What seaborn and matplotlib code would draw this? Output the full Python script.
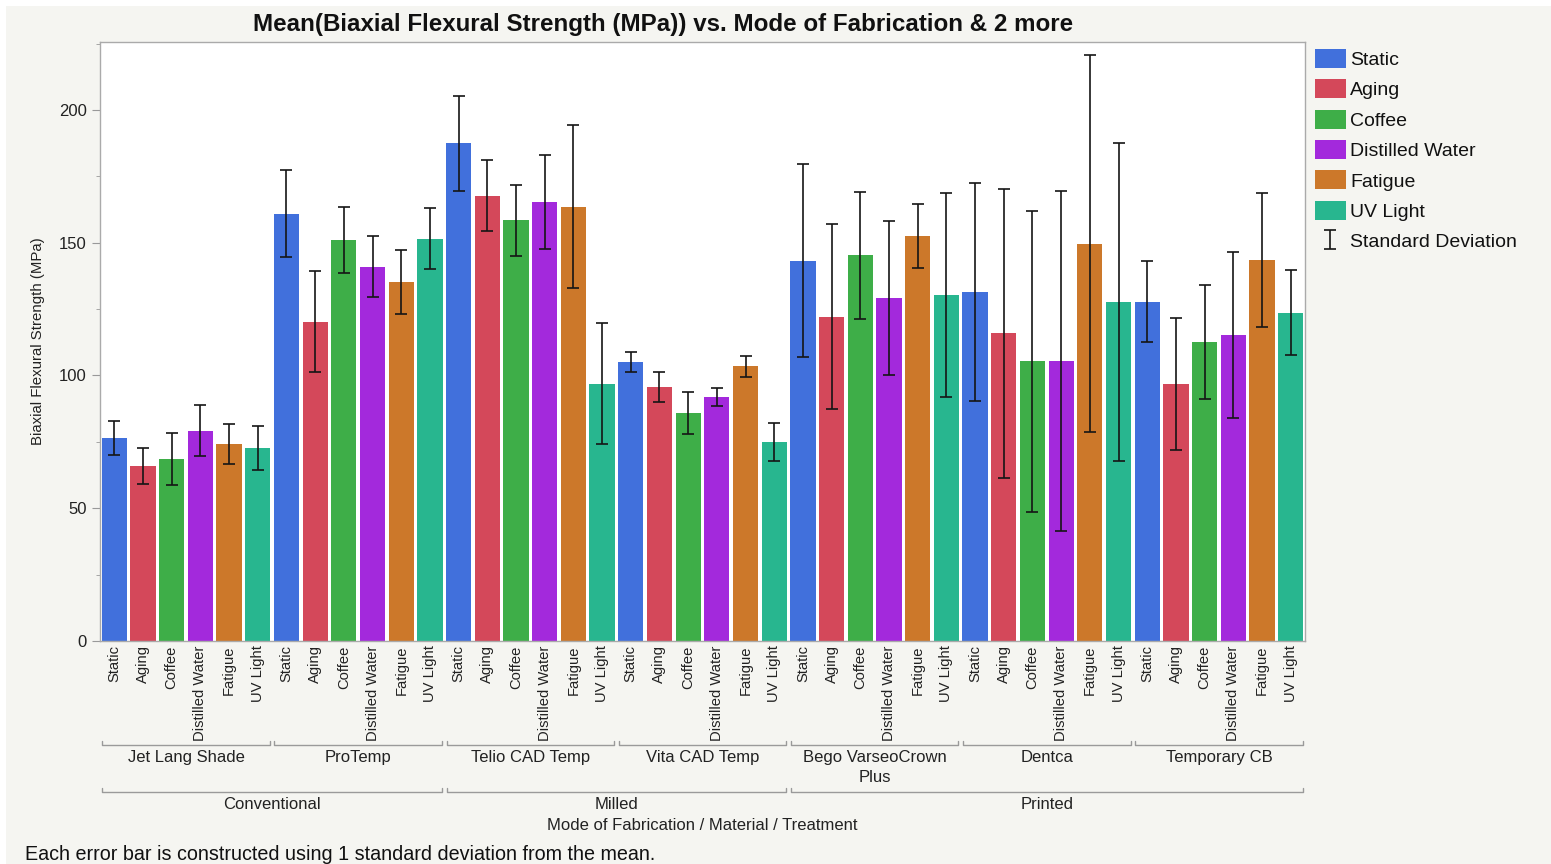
import numpy as np
import pandas as pd
import matplotlib
matplotlib.use("Agg")
import matplotlib.pyplot as plt
import matplotlib.transforms as mtransforms
from matplotlib.patches import Patch, Rectangle
from matplotlib.ticker import MultipleLocator
import seaborn as sns

# chart data
treatments = ["Static", "Aging", "Coffee", "Distilled Water", "Fatigue", "UV Light"]
materials = ["Jet Lang Shade", "ProTemp", "Telio CAD Temp", "Vita CAD Temp",
             "Bego VarseoCrown\nPlus", "Dentca", "Temporary CB"]
material_mode = ["Conventional", "Conventional", "Milled", "Milled",
                 "Printed", "Printed", "Printed"]
modes = ["Conventional", "Milled", "Printed"]

# mean strength per material, in treatment order
means = [
    [76.5, 66.0, 68.4, 79.2, 74.2, 72.7],        # Jet Lang Shade
    [161.0, 120.3, 150.9, 141.0, 135.2, 151.5],  # ProTemp
    [187.4, 167.7, 158.5, 165.5, 163.6, 96.9],   # Telio CAD Temp
    [105.1, 95.6, 85.9, 91.9, 103.4, 74.9],      # Vita CAD Temp
    [143.2, 122.2, 145.3, 129.2, 152.5, 130.4],  # Bego VarseoCrown Plus
    [131.4, 115.9, 105.3, 105.3, 149.7, 127.8],  # Dentca
    [127.8, 96.7, 112.7, 115.1, 143.5, 123.7],   # Temporary CB
]
# standard deviations
sds = [
    [6.4, 6.8, 9.8, 9.7, 7.7, 8.4],
    [16.3, 19.1, 12.4, 11.6, 11.9, 11.5],
    [18.0, 13.4, 13.4, 17.7, 30.6, 22.8],
    [3.6, 5.6, 8.0, 3.5, 4.1, 7.2],
    [36.4, 34.9, 23.9, 29.1, 12.0, 38.5],
    [41.0, 54.5, 56.6, 64.0, 71.0, 59.9],
    [15.3, 24.8, 21.4, 31.3, 25.3, 15.9],
]

colors = ["#4170DC", "#D4485A", "#3EAE48", "#A329DC", "#CC782A", "#28B68F"]

rows = []
for m, mat in enumerate(materials):
    for t, tr in enumerate(treatments):
        rows.append({"key": f"{m}-{t}", "material": mat, "mode": material_mode[m],
                     "treatment": tr, "mean": means[m][t], "sd": sds[m][t]})
df = pd.DataFrame(rows)
order = list(df["key"])

sns.set_style("ticks")
plt.rcParams["font.family"] = ["Liberation Sans", "DejaVu Sans"]

bg = "#f5f5f1"
fig = plt.figure(figsize=(15.51, 8.64), dpi=100, facecolor=bg)
# thin white border at top / left like the screenshot
fig.patches.append(Rectangle((0, 1 - 6 / 864), 1, 6 / 864, transform=fig.transFigure,
                             facecolor="white", edgecolor="none", zorder=0))
fig.patches.append(Rectangle((0, 0), 6 / 1551, 1, transform=fig.transFigure,
                             facecolor="white", edgecolor="none", zorder=0))

ax = fig.add_axes([100 / 1551, 1 - 641 / 864, 1205 / 1551, 599 / 864])
ax.set_facecolor("white")

sns.barplot(data=df, x="key", y="mean", hue="treatment", order=order,
            hue_order=treatments, palette=colors, dodge=False, width=0.88,
            saturation=1, errorbar=None, legend=False, ax=ax, linewidth=0)

eb = ax.errorbar(np.arange(len(df)), df["mean"], yerr=df["sd"], fmt="none",
                 ecolor="#151515", elinewidth=1.2, capsize=4.5, capthick=1.2,
                 zorder=5)

ax.set_xlim(-0.5, len(df) - 0.5)
ax.set_ylim(0, 225.6)
ax.yaxis.set_major_locator(MultipleLocator(50))
ax.yaxis.set_minor_locator(MultipleLocator(25))
ax.tick_params(axis="y", which="major", length=6, color="#999999", labelsize=12,
               labelcolor="#222222")
ax.tick_params(axis="y", which="minor", length=3, color="#999999")
ax.tick_params(axis="x", length=0, pad=3)
ax.set_xticks(np.arange(len(df)))
ax.set_xticklabels(df["treatment"], rotation=90, fontsize=10.6, color="#222222")
for s in ax.spines.values():
    s.set_color("#aaaaaa")
    s.set_linewidth(1.0)

ax.set_xlabel("")
ax.set_ylabel("Biaxial Flexural Strength (MPa)", fontsize=10.8, color="#222222",
              labelpad=10)

# group brackets below the tick labels
trans = mtransforms.blended_transform_factory(ax.transData, ax.transAxes)
n_t = len(treatments)


def bracket(x0, x1, y, label, ylab):
    ax.plot([x0, x0, x1, x1], [y + 0.006, y, y, y + 0.006], transform=trans,
            color="#9a9a9a", lw=1.0, clip_on=False)
    ax.text((x0 + x1) / 2, ylab, label, transform=trans, ha="center", va="top",
            fontsize=12, color="#222222", linespacing=1.4)


for m, mat in enumerate(materials):
    bracket(m * n_t - 0.42, m * n_t + n_t - 1 + 0.42, -0.1736, mat, -0.182)

for mode in modes:
    idx = [i for i, mm in enumerate(material_mode) if mm == mode]
    bracket(idx[0] * n_t - 0.42, idx[-1] * n_t + n_t - 1 + 0.42, -0.2521, mode, -0.2605)

fig.text(702 / 1551, 1 - 826 / 864, "Mode of Fabrication / Material / Treatment",
         ha="center", va="center", fontsize=12, color="#222222")
fig.text(25 / 1551, 1 - 854 / 864,
         "Each error bar is constructed using 1 standard deviation from the mean.",
         ha="left", va="center", fontsize=14.2, color="#111111")
fig.text(663 / 1551, 1 - 24 / 864,
         "Mean(Biaxial Flexural Strength (MPa)) vs. Mode of Fabrication & 2 more",
         ha="center", va="center", fontsize=17.4, fontweight="bold", color="#111111")

handles = [Patch(facecolor=c, edgecolor="none") for c in colors] + [eb]
labels = treatments + ["Standard Deviation"]
leg = ax.legend(handles, labels, loc="upper left", bbox_to_anchor=(1.007, 0.992),
                frameon=False, fontsize=14, handlelength=1.55, handleheight=1.13,
                handletextpad=0.25, labelspacing=0.53, borderaxespad=0, borderpad=0.1)
for t in leg.get_texts():
    t.set_color("#111111")

fig.savefig("out.png", dpi=100, facecolor=bg)
